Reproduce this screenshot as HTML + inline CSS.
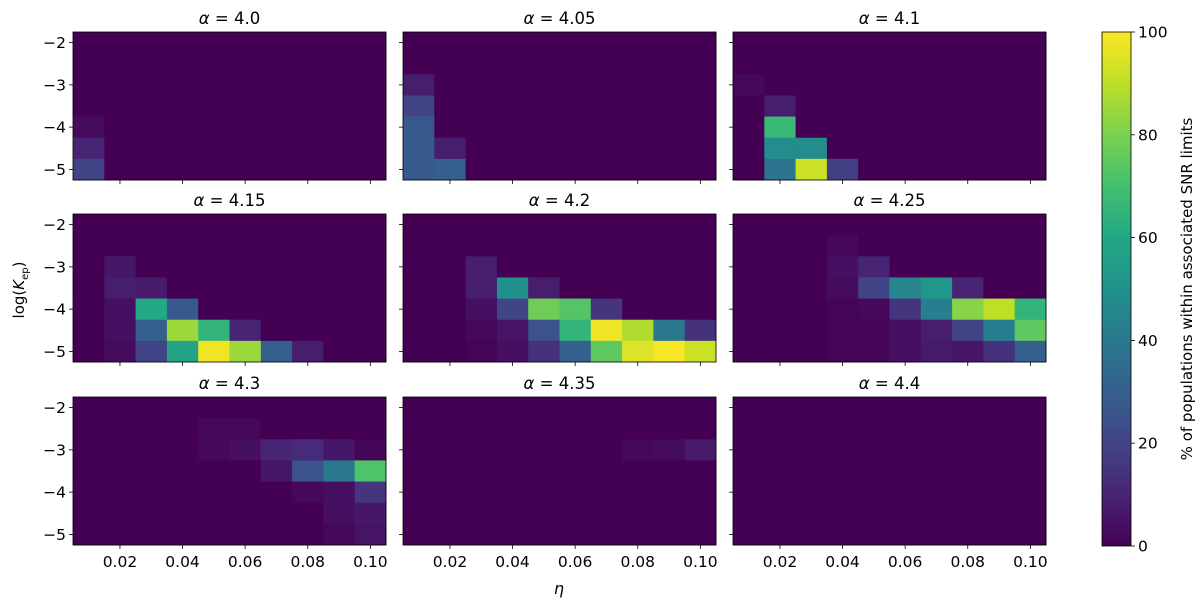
<!DOCTYPE html>
<html><head><meta charset="utf-8"><style>
body{margin:0;background:#fff;}
svg text{font-family:"DejaVu Sans","Liberation Sans",sans-serif;fill:#000;}
</style></head><body>
<svg id="chart" width="1200" height="607" viewBox="0 0 1200 607">
<defs><linearGradient id="vir" x1="0" y1="1" x2="0" y2="0">
<stop offset="0" stop-color="#440154"/><stop offset="0.1" stop-color="#482475"/><stop offset="0.2" stop-color="#414487"/><stop offset="0.3" stop-color="#355f8d"/><stop offset="0.4" stop-color="#2a788e"/><stop offset="0.5" stop-color="#21918c"/><stop offset="0.6" stop-color="#22a884"/><stop offset="0.7" stop-color="#44bf70"/><stop offset="0.8" stop-color="#7ad151"/><stop offset="0.9" stop-color="#bddf26"/><stop offset="1" stop-color="#fde725"/></linearGradient></defs>
</svg>
<script>
const xCenters=[0.01,0.02,0.03,0.04,0.05,0.06,0.07,0.08,0.09,0.10];
const yCenters=[-2,-2.5,-3,-3.5,-4,-4.5,-5];
const xTicks=[0.02,0.04,0.06,0.08,0.10];
const xTickLabels=["0.02","0.04","0.06","0.08","0.10"];
const yTicks=[-2,-3,-4,-5];
const yTickLabels=["\u22122","\u22123","\u22124","\u22125"];
const alphas=["4.0","4.05","4.1","4.15","4.2","4.25","4.3","4.35","4.4"];
const cbTicks=[0,20,40,60,80,100];
const Z=[0,0,0,0,0,0,0,0,0,0];
const p40=[Z,Z,Z,Z,[3,0,0,0,0,0,0,0,0,0],[10,0,0,0,0,0,0,0,0,0],[20,0,0,0,0,0,0,0,0,0]];
const p405=[Z,Z,[8,0,0,0,0,0,0,0,0,0],[20,0,0,0,0,0,0,0,0,0],[28,0,0,0,0,0,0,0,0,0],[28,8,0,0,0,0,0,0,0,0],[28,30,0,0,0,0,0,0,0,0]];
const p41=[Z,Z,[2,0,0,0,0,0,0,0,0,0],[0,8,0,0,0,0,0,0,0,0],[0,67,0,0,0,0,0,0,0,0],[0,48,48,0,0,0,0,0,0,0],[0,38,92,18,0,0,0,0,0,0]];
const p415=[Z,Z,[0,6,0,0,0,0,0,0,0,0],[0,8,7,0,0,0,0,0,0,0],[0,4,60,28,0,0,0,0,0,0],[0,4,30,85,65,10,0,0,0,0],[0,3,20,58,98,85,30,8,0,0]];
const p42=[Z,Z,[0,0,8,0,0,0,0,0,0,0],[0,0,8,50,8,0,0,0,0,0],[0,0,4,20,78,73,15,0,0,0],[0,0,2,5,25,65,98,88,40,14],[0,0,1,4,14,30,75,95,99,92]];
const p425=[Z,[0,0,0,2,0,0,0,0,0,0],[0,0,0,4,10,0,0,0,0,0],[0,0,0,3,20,45,52,10,0,0],[0,0,0,1,2,15,42,82,90,65],[0,0,0,1,1,4,8,20,42,75],[0,0,0,1,1,4,7,6,14,30]];
const p43=[Z,[0,0,0,0,2,2,0,0,0,0],[0,0,0,0,2,4,10,12,6,1],[0,0,0,0,0,0,6,25,40,72],[0,0,0,0,0,0,0,2,4,15],[0,0,0,0,0,0,0,0,4,6],[0,0,0,0,0,0,0,0,2,5]];
const p435=[Z,Z,[0,0,0,0,0,0,0,2,3,7],Z,Z,Z,Z];
const p44=[Z,Z,Z,Z,Z,Z,Z];
const panels=[p40,p405,p41,p415,p42,p425,p43,p435,p44];

const vir=["#440154","#482475","#414487","#355f8d","#2a788e","#21918c","#22a884","#44bf70","#7ad151","#bddf26","#fde725"];
function hex(h){return [1,3,5].map(i=>parseInt(h.substr(i,2),16));}
function cmap(v){let t=Math.max(0,Math.min(1,v/100))*10;let i=Math.min(9,Math.floor(t)),f=t-i;
 const a=hex(vir[i]),b=hex(vir[i+1]);return "rgb("+a.map((c,k)=>Math.round(c+(b[k]-c)*f)).join(",")+")";}
const NS="http://www.w3.org/2000/svg",svg=document.getElementById("chart");
function el(t,a,p){const e=document.createElementNS(NS,t);for(const k in a)e.setAttribute(k,a[k]);(p||svg).appendChild(e);return e;}
const PX=[73,403,733],PY=[32,214,397],W=313,H=148;
const X0=0.005,X1=0.105,Y0=-5.25,Y1=-1.75;
panels.forEach((grid,pi)=>{
 const c=pi%3,r=Math.floor(pi/3),ox=PX[c],oy=PY[r];
 const sx=v=>ox+(v-X0)/(X1-X0)*W, sy=v=>oy+(Y1-v)/(Y1-Y0)*H;
 const g=el("g",{});
 
 
 grid.forEach((row,ri)=>row.forEach((v,ci)=>{
  const x=sx(xCenters[ci]-0.005),y=sy(yCenters[ri]+0.25);
  const rc=el("rect",{x:x,y:y,width:sx(xCenters[ci]+0.005)-x+0.4,height:sy(yCenters[ri]-0.25)-y+0.4,fill:cmap(v)},g);
  
  
 }));
 const fr=el("rect",{x:ox,y:oy,width:W,height:H,fill:"none",stroke:"#000","stroke-width":0.8},g);
 
 
 const t=el("text",{x:ox+W/2,y:oy-8,"text-anchor":"middle","font-size":"16.5"},g);
 
 
 t.innerHTML='<tspan font-style="italic">α</tspan> = '+alphas[pi];
 yTicks.forEach((v,i)=>{const y=sy(v);el("line",{x1:ox-4,x2:ox,y1:y,y2:y,stroke:"#000","stroke-width":0.8},g);
  if(c===0){const tl=el("text",{x:ox-7,y:y+5.5,"text-anchor":"end","font-size":"15.5"},g);tl.textContent=yTickLabels[i];
   
   }});
 xTicks.forEach((v,i)=>{const x=sx(v);el("line",{x1:x,x2:x,y1:oy+H,y2:oy+H+4,stroke:"#000","stroke-width":0.8},g);
  if(r===2){const tl=el("text",{x:x,y:oy+H+22,"text-anchor":"middle","font-size":"15.5"},g);tl.textContent=xTickLabels[i];
   
   }});
});
const yl=el("text",{x:0,y:0,"text-anchor":"middle","font-size":"15","transform":"translate(24,290) rotate(-90)"});


yl.innerHTML='log(<tspan font-style="italic">K</tspan><tspan font-size="10" dy="4">ep</tspan><tspan dy="-4">)</tspan>';
const xl=el("text",{x:559,y:594,"text-anchor":"middle","font-size":"16","font-style":"italic"});


xl.textContent="η";
const CBX=1102,CBW=29,CBT=32,CBB=546;
const cb=el("rect",{x:CBX,y:CBT,width:CBW,height:CBB-CBT,fill:"url(#vir)",stroke:"#000","stroke-width":0.8});


cbTicks.forEach(v=>{const y=CBB-(v/100)*(CBB-CBT);
 el("line",{x1:CBX+CBW,x2:CBX+CBW+4,y1:y,y2:y,stroke:"#000","stroke-width":0.8});
 const t=el("text",{x:CBX+CBW+7,y:y+5.5,"font-size":"15.5"});t.textContent=String(v);
 
 });
const cl=el("text",{x:0,y:0,"text-anchor":"middle","font-size":"15","transform":"translate(1192,289) rotate(-90)"});


cl.textContent="% of populations within associated SNR limits";
</script>
</body></html>
